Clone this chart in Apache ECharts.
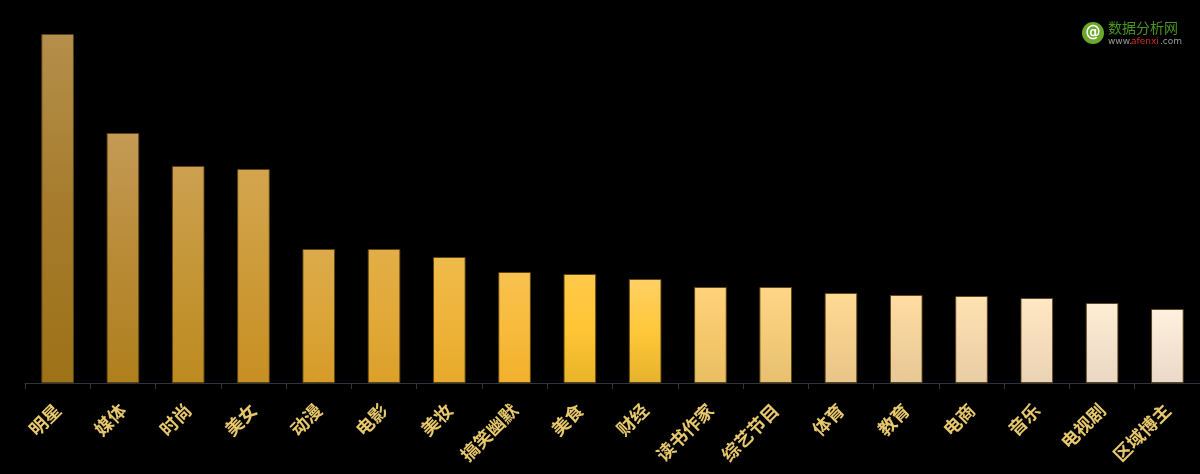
<!DOCTYPE html>
<html>
<head>
<meta charset="utf-8">
<script src="https://cdn.jsdelivr.net/npm/echarts@6/dist/echarts.min.js"></script>
<style>
html,body{margin:0;padding:0;background:#000;}
#main{width:1200px;height:474px;}
</style>
</head>
<body>
<div id="main"></div>
<script>
var categories = ['明星','媒体','时尚','美女','动漫','电影','美妆','搞笑幽默','美食','财经','读书作家','综艺节目','体育','教育','电商','音乐','电视剧','区域博主'];
var values = [349, 250, 217, 214, 134, 134, 126, 111, 109, 104, 96, 96, 90, 88, 87, 85, 80, 74];
var topColors = ['#b48f4b','#c49a55','#cca050','#d3a54e','#dcaa4c','#e3ae48','#efbb4a','#f8c150','#ffc94a','#ffd066','#ffd27c','#ffd687','#ffda94','#ffdda2','#ffe2b1','#ffe8c2','#ffedd3','#fff1de'];
var midColors = ['#a67b2c','#b98b36','#c49636','#cd9a38','#dba53a','#e2a938','#eeb43a','#f8bb3c','#ffc535','#ffc83a','#f6c86c','#f4cb78','#f4cf8c','#f3d29c','#f4d7ab','#f5ddbc','#f5e2cc','#f5e4d3'];
var bottomColors = ['#9d7218','#af7f1d','#be8a20','#c88f22','#d69b27','#dca02a','#e7a92a','#f2b02c','#e8b42a','#e6b22c','#e8be63','#e6c070','#e8c489','#e6c896','#e8cca4','#ead3b4','#ebd8c4','#ebd8c8'];

var chart = echarts.init(document.getElementById('main'));
var data = values.map(function(v, i){
  return {
    value: v,
    itemStyle: {
      color: new echarts.graphic.LinearGradient(0, 0, 0, 1, [
        {offset: 0, color: topColors[i]},
        {offset: 0.5, color: midColors[i]},
        {offset: 1, color: bottomColors[i]}
      ])
    }
  };
});
chart.setOption({
  backgroundColor: '#000000',
  animation: false,
  grid: {left: 25, right: 0, top: 33, bottom: 91, containLabel: false},
  xAxis: {
    type: 'category',
    data: categories,
    axisLine: {lineStyle: {color: '#30353b', width: 1}},
    axisTick: {show: true, length: 6, lineStyle: {color: '#30353b'}},
    axisLabel: {
      rotate: 45,
      interval: 0,
      margin: 24,
      color: '#e8c86c',
      fontSize: 18,
      fontWeight: 'bold',
      fontFamily: 'Noto Sans CJK SC'
    }
  },
  yAxis: {
    type: 'value',
    min: 0,
    max: 350,
    show: false
  },
  series: [{
    type: 'bar',
    data: data,
    barWidth: '50%',
    itemStyle: {borderColor: 'rgba(90,66,20,0.9)', borderWidth: 1}
  }],
  graphic: [
    {type: 'circle', shape: {cx: 1093, cy: 33, r: 11}, style: {fill: '#6aa82a'}},
    {type: 'text', style: {x: 1093, y: 33, text: '@', fill: '#ffffff', font: 'bold 15px "DejaVu Sans"', textAlign: 'center', textVerticalAlign: 'middle'}},
    {type: 'text', style: {x: 1108, y: 28, text: '数据分析网', fill: '#4a9424', font: '14px "Noto Sans CJK SC"', textVerticalAlign: 'middle'}},
    {type: 'text', style: {x: 1108, y: 42, text: 'www.', fill: '#9a9a9a', font: '9px "DejaVu Sans"', textVerticalAlign: 'middle'}},
    {type: 'text', style: {x: 1131, y: 42, text: 'afenxi', fill: '#d03020', font: '9px "DejaVu Sans"', textVerticalAlign: 'middle'}},
    {type: 'text', style: {x: 1160, y: 42, text: '.com', fill: '#9a9a9a', font: '9px "DejaVu Sans"', textVerticalAlign: 'middle'}}
  ]
});
</script>
</body>
</html>
